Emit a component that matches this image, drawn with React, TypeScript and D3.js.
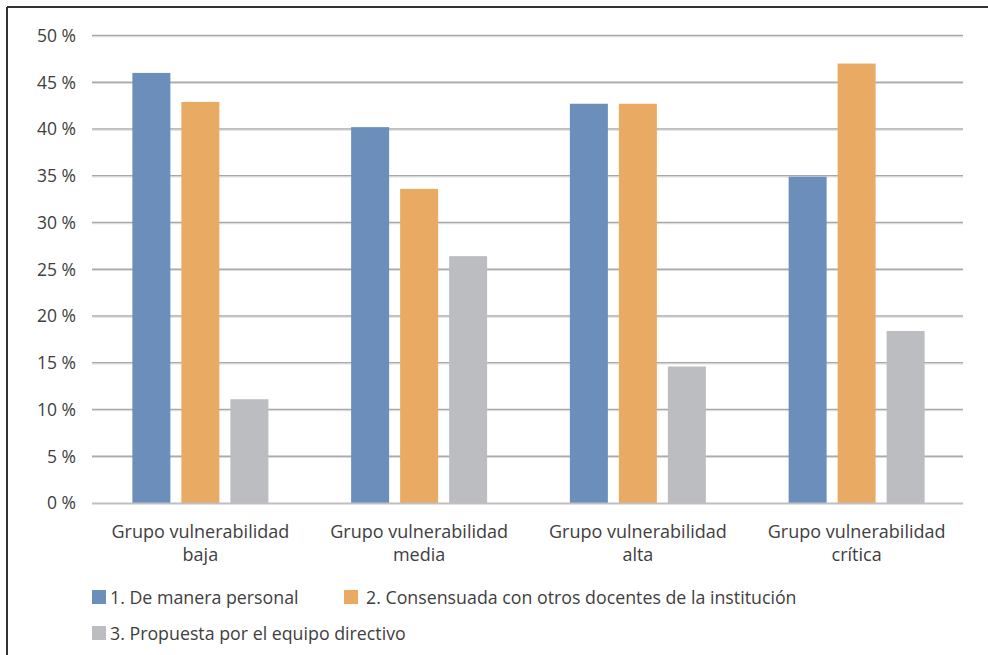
import React from "react";
import * as d3 from "d3";

const categories = [
  ["Grupo vulnerabilidad", "baja"],
  ["Grupo vulnerabilidad", "media"],
  ["Grupo vulnerabilidad", "alta"],
  ["Grupo vulnerabilidad", "crítica"],
];
const seriesNames = [
  "1. De manera personal",
  "2. Consensuada con otros docentes de la institución",
  "3. Propuesta por el equipo directivo",
];
const personal = [46.0, 40.2, 42.7, 34.9];
const consensuada = [42.9, 33.6, 42.7, 47.0];
const directivo = [11.1, 26.4, 14.6, 18.4];
const yTicks = [0, 5, 10, 15, 20, 25, 30, 35, 40, 45, 50];
const colors = ["#6B8FBA", "#E9AB63", "#BCBDC1"];

export default function App() {
  const W = 988, H = 655;
  const left = 92, right = 963, top = 35.5, bottom = 503;
  const series = [personal, consensuada, directivo];
  const x = d3.scaleBand<number>().domain(d3.range(categories.length)).range([91, 966]).paddingInner(0).paddingOuter(0);
  const inner = d3.scaleBand<number>().domain([0, 1, 2]).range([0, 136]).paddingInner(11 / 49).paddingOuter(0);
  const y = d3.scaleLinear().domain([0, 50]).range([bottom, top]);
  const font = "'Open Sans', 'Noto Sans', sans-serif";
  const txt = "#404040";
  const groupOffset = (x.bandwidth() - 136) / 2;

  return (
    <svg width={W} height={H} style={{ position: "absolute", left: 0, top: 0, background: "#fff" }} fontFamily={font}>
      <rect x={0} y={0} width={W} height={H} fill="#fff" />
      <line x1={7} y1={7} x2={W} y2={7} stroke="#333" strokeWidth={2} />
      <line x1={7} y1={7} x2={7} y2={H} stroke="#333" strokeWidth={2} />
      {yTicks.map((t) => (
        <g key={t}>
          {t > 0 && <line x1={left} x2={right} y1={y(t)} y2={y(t)} stroke="#A8A8AC" strokeWidth={1.3} />}
          {t > 0 && <line x1={left} x2={right} y1={y(t) + 1.2} y2={y(t) + 1.2} stroke="#DADADC" strokeWidth={1} />}
          <text x={76} y={y(t)} dy="0.36em" textAnchor="end" fontSize={17.5} fill={txt}>{t} %</text>
        </g>
      ))}
      {series.map((vals, s) =>
        vals.map((v, i) => (
          <rect key={`${s}-${i}`} x={(x(i) as number) + groupOffset + (inner(s) as number)} y={y(v)} width={inner.bandwidth()} height={y(0) - y(v)} fill={colors[s]} />
        ))
      )}
      <line x1={left} x2={right} y1={y(0) + 0.5} y2={y(0) + 0.5} stroke="#BFBFC3" strokeWidth={2} />
      {categories.map((c, i) => (
        <text key={i} x={(x(i) as number) + x.bandwidth() / 2} textAnchor="middle" fontSize={18} fill={txt}>
          <tspan x={(x(i) as number) + x.bandwidth() / 2} y={538}>{c[0]}</tspan>
          <tspan x={(x(i) as number) + x.bandwidth() / 2} y={561}>{c[1]}</tspan>
        </text>
      ))}
      {[
        { lx: 92, ly: 590, tx: 110, ty: 604 },
        { lx: 344, ly: 590, tx: 366, ty: 604 },
        { lx: 92, ly: 626, tx: 110, ty: 640 },
      ].map((p, i) => (
        <g key={i}>
          <rect x={p.lx} y={p.ly} width={14} height={14} fill={colors[i]} />
          <text x={p.tx} y={p.ty} fontSize={17.8} fill={txt}>{seriesNames[i]}</text>
        </g>
      ))}
    </svg>
  );
}
